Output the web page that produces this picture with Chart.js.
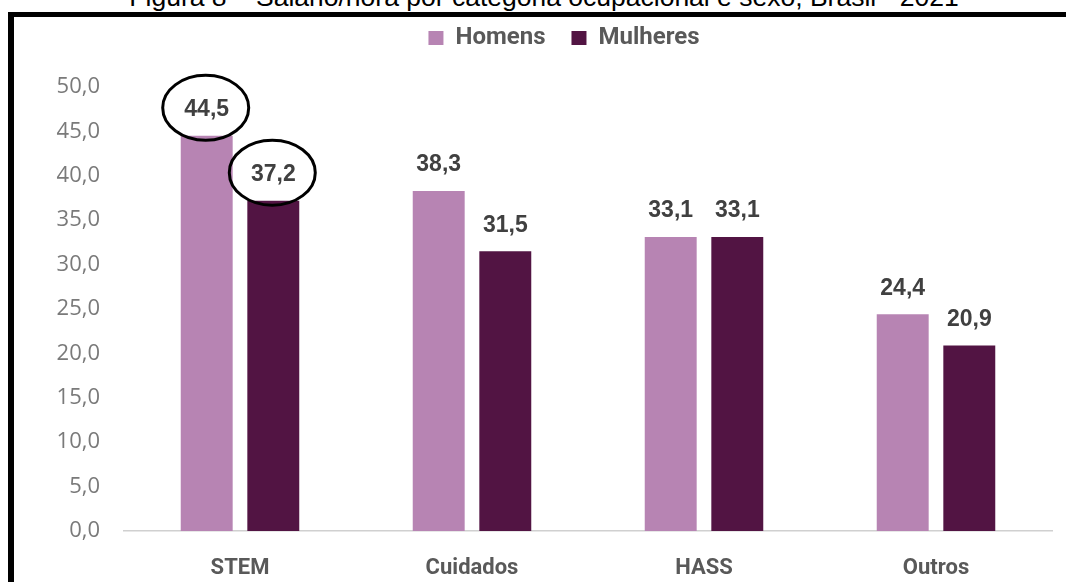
<!DOCTYPE html>
<html>
<head>
<meta charset="utf-8">
<script src="https://cdn.jsdelivr.net/npm/chart.js@4.4.1/dist/chart.umd.min.js"></script>
<style>
  html, body { margin: 0; padding: 0; background: #fff; }
  #wrap { position: relative; width: 1066px; height: 582px; overflow: hidden; }
  #title {
    position: absolute; left: 11px; top: -17px; width: 1066px; text-align: center;
    font-family: "Liberation Sans", Arial, sans-serif; font-size: 26.5px; line-height: 28px; color: #000;
    white-space: nowrap;
  }
  #frame {
    position: absolute; left: 8px; top: 12px; width: 2000px; height: 2000px;
    border-left: 6px solid #000; border-top: 5px solid #000; pointer-events: none;
  }
  canvas { position: absolute; left: 0; top: 0; }
</style>
</head>
<body>
<div id="wrap">
  <div id="title">Figura 8 – Salário/hora por categoria ocupacional e sexo, Brasil - 2021</div>
  <canvas id="chart" width="1066" height="582"></canvas>
  <div id="frame"></div>
</div>
<script>
const categories = ["STEM", "Cuidados", "HASS", "Outros"];
const homens = [44.5, 38.3, 33.1, 24.4];
const mulheres = [37.2, 31.5, 33.1, 20.9];
const yTicks = [0, 5, 10, 15, 20, 25, 30, 35, 40, 45, 50];
const highlighted = ["STEM"];

const labelColor = "#404040";
const tickColor = "#7a7a7a";

function decimal(value) {
  return value.toFixed(1).replace(".", ",");
}

// more room under the legend, and legend a bit right of centre
const legendTweak = {
  id: "legendTweak",
  beforeInit(chart) {
    const fit = chart.legend.fit;
    chart.legend.fit = function () {
      fit.bind(chart.legend)();
      this.height += 27;
    };
  },
  afterLayout(chart) {
    chart.legend.left += 28;
    chart.legend.right += 28;
  }
};

const valueLabels = {
  id: "valueLabels",
  afterDatasetsDraw(chart) {
    const ctx = chart.ctx;
    ctx.save();
    ctx.font = "bold 23px 'Liberation Sans', Arial, sans-serif";
    ctx.fillStyle = labelColor;
    ctx.textAlign = "center";
    ctx.textBaseline = "middle";
    chart.data.datasets.forEach((ds, di) => {
      const meta = chart.getDatasetMeta(di);
      meta.data.forEach((bar, i) => {
        const y = bar.y - 26;
        ctx.fillText(decimal(ds.data[i]), bar.x, y);
        if (highlighted.includes(categories[i])) {
          ctx.beginPath();
          ctx.ellipse(bar.x - 1, y - 2, 43, 32.5, 0, 0, Math.PI * 2);
          ctx.lineWidth = 3;
          ctx.strokeStyle = "#000";
          ctx.stroke();
        }
      });
    });
    ctx.restore();
  }
};

new Chart(document.getElementById("chart"), {
  type: "bar",
  data: {
    labels: categories,
    datasets: [
      {
        label: "Homens",
        data: homens,
        backgroundColor: "#b784b3",
        categoryPercentage: 0.574,
        barPercentage: 0.78
      },
      {
        label: "Mulheres",
        data: mulheres,
        backgroundColor: "#521443",
        categoryPercentage: 0.574,
        barPercentage: 0.78
      }
    ]
  },
  options: {
    responsive: false,
    animation: false,
    devicePixelRatio: 1,
    layout: {
      padding: { left: 20, right: 14, top: 0, bottom: 3 }
    },
    plugins: {
      legend: {
        display: true,
        position: "top",
        labels: {
          boxWidth: 15,
          boxHeight: 14,
          padding: 26,
          color: "#595959",
          font: { family: "Roboto", weight: "bold", size: 24 }
        }
      },
      tooltip: { enabled: false }
    },
    scales: {
      x: {
        afterFit(scale) {
          scale.height = 48;
        },
        grid: { display: false, drawTicks: false },
        border: { display: true, color: "#d0d0d0", width: 1.5 },
        ticks: {
          color: "#595959",
          padding: 24,
          font: { family: "Roboto", weight: "bold", size: 22 }
        }
      },
      y: {
        min: 0,
        max: 50,
        afterFit(scale) {
          scale.width = 104;
        },
        afterBuildTicks(scale) {
          scale.ticks = yTicks.map((v) => ({ value: v }));
        },
        grid: { display: false, drawTicks: false },
        border: { display: false },
        ticks: {
          color: tickColor,
          padding: 24,
          font: { family: "Open Sans", size: 22 },
          callback(value) {
            return decimal(value);
          }
        }
      }
    }
  },
  plugins: [legendTweak, valueLabels]
});
</script>
</body>
</html>
